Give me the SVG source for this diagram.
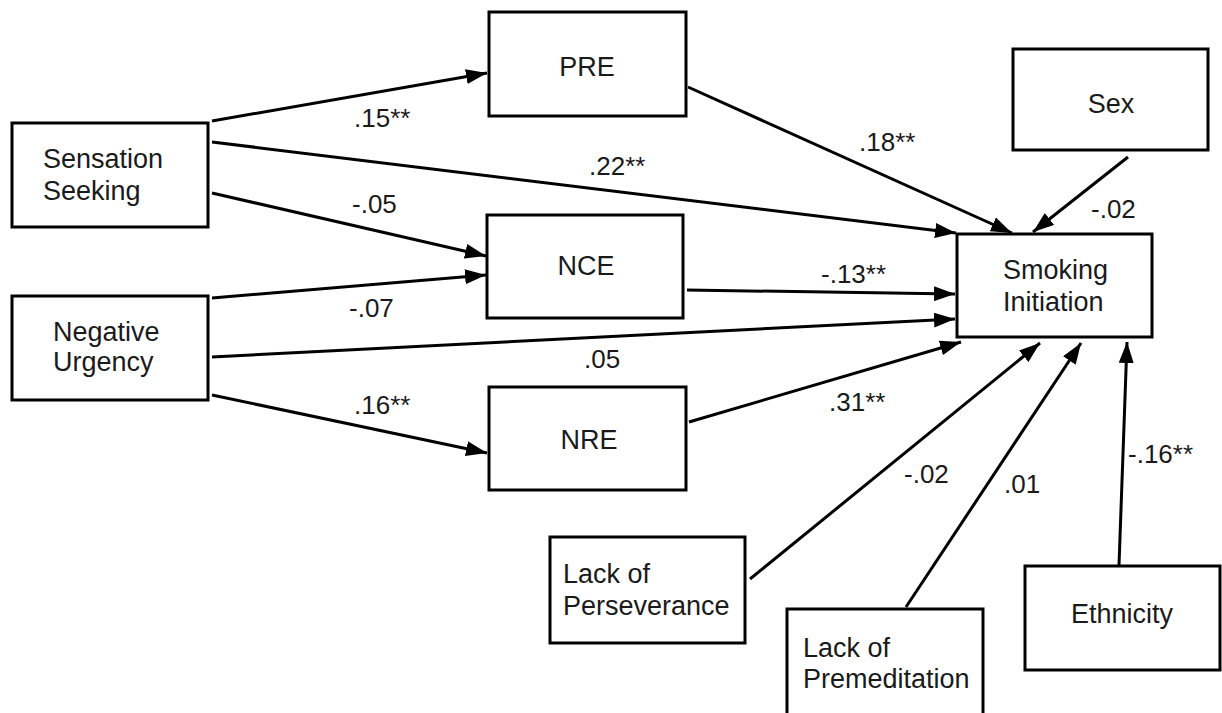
<svg xmlns="http://www.w3.org/2000/svg" width="1222" height="713" viewBox="0 0 1222 713">
<style>
.box{fill:#fff;stroke:#000;stroke-width:3}
.t{font-family:"Liberation Sans",Arial,sans-serif;font-size:27px;fill:#1a1a1a}
.c{text-anchor:middle}
.e{stroke:#000;stroke-width:3;fill:none;marker-end:url(#ah)}
.l{font-family:"Liberation Sans",Arial,sans-serif;font-size:26px;fill:#1a1a1a}
</style>
<defs>
<marker id="ah" markerUnits="userSpaceOnUse" markerWidth="21" markerHeight="15" refX="21" refY="7.5" orient="auto">
<path d="M0,0 L21,7.5 L0,15 z" fill="#000"/>
</marker>
</defs>
<rect width="1222" height="713" fill="#fff"/>
<g id="connectors">
<line class="e" x1="212" y1="121" x2="487" y2="73"/>
<line class="e" x1="212" y1="142" x2="956" y2="233"/>
<line class="e" x1="212" y1="193" x2="486" y2="256"/>
<line class="e" x1="212" y1="298" x2="486" y2="275"/>
<line class="e" x1="212" y1="357" x2="955" y2="319"/>
<line class="e" x1="212" y1="395" x2="487" y2="453"/>
<line class="e" x1="688" y1="87" x2="1012" y2="233"/>
<line class="e" x1="687" y1="290" x2="955" y2="294"/>
<line class="e" x1="689" y1="422" x2="961" y2="342"/>
<line class="e" x1="1128" y1="157" x2="1033" y2="232"/>
<line class="e" x1="750" y1="579" x2="1040" y2="343"/>
<line class="e" x1="906" y1="607" x2="1081" y2="343"/>
<line class="e" x1="1119" y1="565" x2="1127" y2="342"/>
<text class="l" x="354" y="127">.15**</text>
<text class="l" x="589" y="175">.22**</text>
<text class="l" x="352" y="213">-.05</text>
<text class="l" x="349" y="317">-.07</text>
<text class="l" x="584" y="368">.05</text>
<text class="l" x="354" y="414">.16**</text>
<text class="l" x="859" y="151">.18**</text>
<text class="l" x="821" y="283">-.13**</text>
<text class="l" x="829" y="411">.31**</text>
<text class="l" x="1091" y="218">-.02</text>
<text class="l" x="904" y="483">-.02</text>
<text class="l" x="1004" y="493">.01</text>
<text class="l" x="1128" y="463">-.16**</text>
</g>
<g id="sensation-seeking">
<rect class="box" x="12" y="123" width="196" height="104"/>
<text class="t" x="43" y="168">Sensation</text>
<text class="t" x="43" y="200">Seeking</text>
</g>
<g id="negative-urgency">
<rect class="box" x="12" y="296" width="196" height="104"/>
<text class="t" x="53" y="341">Negative</text>
<text class="t" x="53" y="371">Urgency</text>
</g>
<g id="pre">
<rect class="box" x="489" y="12" width="197" height="104"/>
<text class="t c" x="587" y="76">PRE</text>
</g>
<g id="nce">
<rect class="box" x="487" y="215" width="196" height="103"/>
<text class="t c" x="586" y="275">NCE</text>
</g>
<g id="nre">
<rect class="box" x="489" y="387" width="197" height="103"/>
<text class="t c" x="589" y="449">NRE</text>
</g>
<g id="smoking-initiation">
<rect class="box" x="957" y="234" width="195" height="103"/>
<text class="t" x="1003" y="279">Smoking</text>
<text class="t" x="1003" y="311">Initiation</text>
</g>
<g id="sex">
<rect class="box" x="1013" y="49" width="195" height="101"/>
<text class="t c" x="1111" y="113">Sex</text>
</g>
<g id="lack-of-perseverance">
<rect class="box" x="550" y="537" width="195" height="106"/>
<text class="t" x="563" y="583">Lack of</text>
<text class="t" x="563" y="615">Perseverance</text>
</g>
<g id="lack-of-premeditation">
<rect class="box" x="787" y="609" width="196" height="110"/>
<text class="t" x="803" y="657">Lack of</text>
<text class="t" x="803" y="688">Premeditation</text>
</g>
<g id="ethnicity">
<rect class="box" x="1025" y="566" width="195" height="104"/>
<text class="t c" x="1122" y="623">Ethnicity</text>
</g>
</svg>
